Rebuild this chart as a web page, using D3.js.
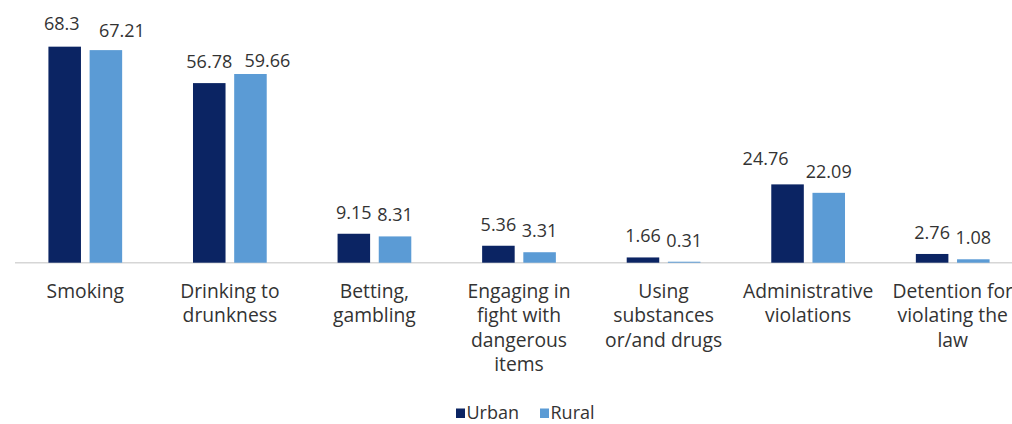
<!DOCTYPE html>
<html>
<head>
<meta charset="utf-8">
<script src="https://cdn.jsdelivr.net/npm/d3@7"></script>
<style>
  html, body { margin: 0; padding: 0; background: #fff; }
  svg { display: block; }
  text { font-family: "Open Sans", "Noto Sans", sans-serif; fill: #333; }
</style>
</head>
<body>
<svg id="chart" width="1012" height="424"></svg>
<script>
// Share of young people reporting each behaviour, by place of residence (%)
const categories = [
  "Smoking",
  "Drinking to drunkness",
  "Betting, gambling",
  "Engaging in fight with dangerous items",
  "Using substances or/and drugs",
  "Administrative violations",
  "Detention for violating the law"
];
const categoryLines = [
  ["Smoking"],
  ["Drinking to", "drunkness"],
  ["Betting,", "gambling"],
  ["Engaging in", "fight with", "dangerous", "items"],
  ["Using", "substances", "or/and drugs"],
  ["Administrative", "violations"],
  ["Detention for", "violating the", "law"]
];
const seriesNames = ["Urban", "Rural"];
const urbanValues = [68.3, 56.78, 9.15, 5.36, 1.66, 24.76, 2.76];
const ruralValues = [67.21, 59.66, 8.31, 3.31, 0.31, 22.09, 1.08];
const seriesColors = ["#0b2463", "#5b9bd5"];

const svg = d3.select("#chart");

const baseY = 262.7;
const y = d3.scaleLinear().domain([0, 70]).range([baseY, baseY - 70 * 3.163]);

const x0 = d3.scaleBand()
  .domain(categories)
  .range([13, 1025])
  .paddingInner(0.49)
  .paddingOuter(0.245);

const x1 = d3.scaleBand()
  .domain(seriesNames)
  .range([0, x0.bandwidth()])
  .paddingInner(0.21);

const color = d3.scaleOrdinal().domain(seriesNames).range(seriesColors);

const rows = categories.map((c, i) => ({
  category: c,
  values: [
    { series: "Urban", value: urbanValues[i] },
    { series: "Rural", value: ruralValues[i] }
  ]
}));

// baseline
svg.append("line")
  .attr("x1", 15).attr("x2", 1012)
  .attr("y1", baseY).attr("y2", baseY)
  .attr("stroke", "#d6d6d6")
  .attr("stroke-width", 1.5);

const groups = svg.append("g").selectAll("g")
  .data(rows)
  .join("g")
  .attr("transform", d => `translate(${x0(d.category)},0)`);

groups.selectAll("rect")
  .data(d => d.values)
  .join("rect")
  .attr("x", d => x1(d.series))
  .attr("width", x1.bandwidth())
  .attr("y", d => y(d.value))
  .attr("height", d => y(0) - y(d.value))
  .attr("fill", d => color(d.series));

// value labels, a few shifted aside where neighbours crowd them
const nudge = {
  "Smoking|Urban": [-3, -2],
  "Smoking|Rural": [16, 2],
  "Drinking to drunkness|Rural": [17, 8],
  "Administrative violations|Urban": [-22, -4]
};
const off = (row, d) => nudge[row.category + "|" + d.series] || [0, 0];
groups.each(function (row) {
  d3.select(this).selectAll("text.value")
    .data(row.values)
    .join("text")
    .attr("class", "value")
    .attr("text-anchor", "middle")
    .attr("font-size", 18)
    .attr("x", d => x1(d.series) + x1.bandwidth() / 2 + off(row, d)[0])
    .attr("y", d => y(d.value) - 15 + off(row, d)[1])
    .text(d => d3.format("")(d.value));
});

// category labels
const catLabels = svg.append("g").selectAll("text")
  .data(categories)
  .join("text")
  .attr("text-anchor", "middle")
  .attr("font-size", 19.3)
  .attr("x", c => x0(c) + x0.bandwidth() / 2)
  .attr("y", 298);
catLabels.each(function (c, i) {
  d3.select(this).selectAll("tspan")
    .data(categoryLines[i])
    .join("tspan")
    .attr("x", x0(c) + x0.bandwidth() / 2)
    .attr("dy", (t, j) => j === 0 ? 0 : 24.3)
    .text(t => t);
});

// legend
const legend = svg.append("g").attr("transform", "translate(456,0)");
const legendX = [0, 84];
seriesNames.forEach((s, i) => {
  const g = legend.append("g").attr("transform", `translate(${legendX[i]},0)`);
  g.append("rect").attr("x", 0).attr("y", 408.5).attr("width", 9).attr("height", 9.5).attr("fill", color(s));
  g.append("text").attr("x", 10.5).attr("y", 419).attr("font-size", 18).text(s);
});
</script>
</body>
</html>
